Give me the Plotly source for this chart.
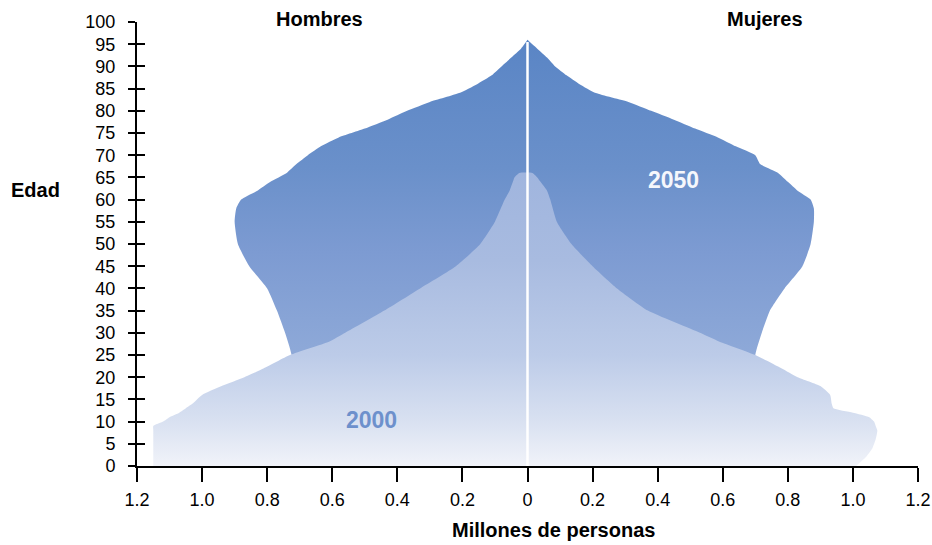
import plotly.graph_objects as go

# ---- data (millions of persons by age) ----
ages_2050 = [0, 25, 30, 35, 40, 45, 50, 55, 58, 60, 62, 64, 66, 68, 70, 72, 74, 76, 78, 80, 82, 84, 86, 88, 90, 92, 94, 96]
men_2050 = [0.70, 0.725, 0.745, 0.77, 0.80, 0.855, 0.89, 0.90, 0.895, 0.88, 0.83, 0.79, 0.74, 0.71, 0.675, 0.635, 0.58, 0.50, 0.43, 0.37, 0.30, 0.21, 0.155, 0.11, 0.08, 0.05, 0.02, 0.0]
women_2050 = [0.68, 0.70, 0.72, 0.745, 0.79, 0.845, 0.87, 0.88, 0.88, 0.87, 0.83, 0.80, 0.77, 0.715, 0.70, 0.64, 0.585, 0.515, 0.45, 0.38, 0.31, 0.21, 0.16, 0.12, 0.085, 0.06, 0.03, 0.0]

ages_2000 = [0, 2, 4, 6, 8, 9, 10, 11, 12, 13, 14, 16, 18, 20, 22, 25, 28, 30, 35, 40, 45, 50, 55, 60, 62, 64, 65, 66]
men_2000 = [1.15, 1.15, 1.15, 1.15, 1.15, 1.15, 1.12, 1.10, 1.07, 1.05, 1.03, 1.00, 0.94, 0.87, 0.81, 0.73, 0.61, 0.56, 0.44, 0.33, 0.22, 0.145, 0.10, 0.07, 0.055, 0.045, 0.04, 0.025]
women_2000 = [1.01, 1.04, 1.06, 1.07, 1.075, 1.07, 1.065, 1.05, 1.00, 0.94, 0.935, 0.93, 0.90, 0.83, 0.78, 0.70, 0.59, 0.53, 0.37, 0.275, 0.20, 0.135, 0.09, 0.07, 0.06, 0.04, 0.03, 0.015]

x_tickvals = [-1.2, -1.0, -0.8, -0.6, -0.4, -0.2, 0, 0.2, 0.4, 0.6, 0.8, 1.0, 1.2]
x_ticktext = ["1.2", "1.0", "0.8", "0.6", "0.4", "0.2", "0", "0.2", "0.4", "0.6", "0.8", "1.0", "1.2"]
y_tickvals = list(range(0, 101, 5))

FONT = "Liberation Sans, Arial, sans-serif"


def pyramid(ages, men, women):
    xs = [-v for v in men] + [v for v in reversed(women)]
    ys = list(ages) + list(reversed(ages))
    return xs, ys


fig = go.Figure()

x50, y50 = pyramid(ages_2050, men_2050, women_2050)
fig.add_trace(go.Scatter(
    x=x50, y=y50, mode="lines", fill="toself",
    line=dict(width=0, color="rgba(0,0,0,0)", shape="spline", smoothing=0.5),
    fillgradient=dict(type="vertical", start=0, stop=96,
                      colorscale=[[0, "#b3c4e6"], [0.26, "#8ea9d8"], [0.5, "#7d9bd2"],
                                  [0.7, "#6a90ca"], [1, "#5a85c5"]]),
    hoverinfo="skip", showlegend=False))

x00, y00 = pyramid(ages_2000, men_2000, women_2000)
fig.add_trace(go.Scatter(
    x=x00, y=y00, mode="lines", fill="toself",
    line=dict(width=0, color="rgba(0,0,0,0)", shape="spline", smoothing=0.5),
    fillgradient=dict(type="vertical", start=0, stop=66,
                      colorscale=[[0, "#f1f3f9"], [0.15, "#d9e1f1"], [0.38, "#bccbe8"],
                                  [0.7, "#a8bbe0"], [1, "#a0b5de"]]),
    hoverinfo="skip", showlegend=False))

# white centre line
fig.add_trace(go.Scatter(x=[0, 0], y=[0, 95.5], mode="lines",
                         line=dict(color="white", width=2.5),
                         hoverinfo="skip", showlegend=False))

# dummy trace for the overlay axis (crossing ticks)
fig.add_trace(go.Scatter(x=[-1.2], y=[0], mode="none", yaxis="y2",
                         hoverinfo="skip", showlegend=False))

fig.update_layout(
    width=932, height=545,
    margin=dict(l=137, r=14, t=22, b=79, autoexpand=False),
    paper_bgcolor="white", plot_bgcolor="white",
    font=dict(family=FONT, color="black"),
    hovermode=False,
    xaxis=dict(range=[-1.2, 1.2], tickvals=x_tickvals, ticktext=x_ticktext, automargin=False,
               showgrid=False, zeroline=False, showline=True, linecolor="black", linewidth=2,
               ticks="outside", ticklen=14, tickwidth=2, tickcolor="black",
               tickfont=dict(size=18, family=FONT, color="black"), ticklabelstandoff=2),
    yaxis=dict(range=[0, 100], tickvals=y_tickvals, automargin=False,
               showgrid=False, zeroline=False, showline=True, linecolor="black", linewidth=2,
               ticks="outside", ticklen=7, tickwidth=2, tickcolor="black",
               tickfont=dict(size=18, family=FONT, color="black"), ticklabelstandoff=9),
    yaxis2=dict(range=[0, 100], tickvals=y_tickvals, overlaying="y", side="left", anchor="x",
                automargin=False,
                showgrid=False, zeroline=False, showline=False, showticklabels=False,
                ticks="inside", ticklen=8, tickwidth=2, tickcolor="black"),
    annotations=[
        dict(text="<b>Hombres</b>", x=0.234, y=1.007, xref="paper", yref="paper",
             xanchor="center", yanchor="middle", showarrow=False, font=dict(size=20, family=FONT)),
        dict(text="<b>Mujeres</b>", x=0.804, y=1.007, xref="paper", yref="paper",
             xanchor="center", yanchor="middle", showarrow=False, font=dict(size=20, family=FONT)),
        dict(text="<b>Edad</b>", x=-0.1306, y=0.6216, xref="paper", yref="paper",
             xanchor="center", yanchor="middle", showarrow=False, font=dict(size=20, family=FONT)),
        dict(text="<b>Millones de personas</b>", x=0.5327, y=-0.144, xref="paper", yref="paper",
             xanchor="center", yanchor="middle", showarrow=False, font=dict(size=20, family=FONT)),
        dict(text="<b>2050</b>", x=0.45, y=64.4, xref="x", yref="y",
             xanchor="center", yanchor="middle", showarrow=False,
             font=dict(size=23, family=FONT, color="#f5f7fc")),
        dict(text="<b>2000</b>", x=-0.48, y=10.4, xref="x", yref="y",
             xanchor="center", yanchor="middle", showarrow=False,
             font=dict(size=23, family=FONT, color="#6d90cc")),
    ],
)

fig.write_html("out.html", config={"displayModeBar": False, "staticPlot": True},
               post_script="document.body.style.margin='0';document.body.style.overflow='hidden';")
